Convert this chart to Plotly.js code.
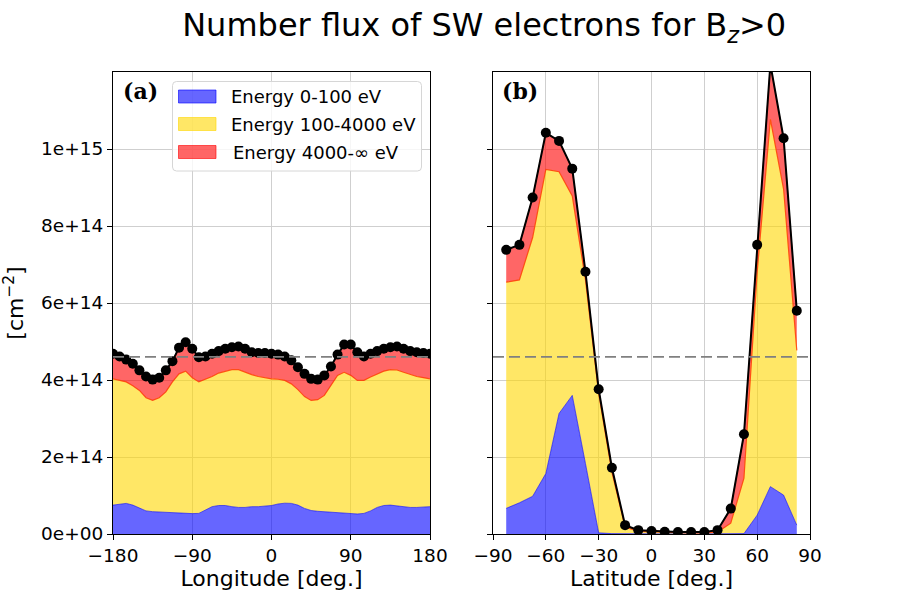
<!DOCTYPE html>
<html>
<head>
<meta charset="utf-8">
<script src="https://cdn.plot.ly/plotly-3.0.1.min.js"></script>
<style>
  html, body { margin: 0; padding: 0; background: #fff; }
  #chart { width: 900px; height: 600px; }
</style>
</head>
<body>
<div id="chart"></div>
<script>
// Flux values in units of 1e14 cm^-2, cumulative (low, low+mid, total)
const SCALE = 1e14;
const THRESHOLD = 4.6;

const longitude = [-180, -172.5, -165, -157.5, -150, -142.5, -135, -127.5, -120, -112.5,
  -105, -97.5, -90, -82.5, -75, -67.5, -60, -52.5, -45, -37.5, -30, -22.5, -15, -7.5,
  0, 7.5, 15, 22.5, 30, 37.5, 45, 52.5, 60, 67.5, 75, 82.5, 90, 97.5, 105, 112.5,
  120, 127.5, 135, 142.5, 150, 157.5, 165, 172.5, 180];

const lonLow = [0.75, 0.78, 0.795, 0.75, 0.665, 0.60, 0.58, 0.57, 0.56, 0.55,
  0.54, 0.535, 0.53, 0.535, 0.62, 0.71, 0.74, 0.74, 0.71, 0.69, 0.69, 0.71, 0.71, 0.73,
  0.74, 0.78, 0.80, 0.795, 0.75, 0.665, 0.61, 0.59, 0.58, 0.57, 0.56, 0.55, 0.54, 0.52, 0.535, 0.60,
  0.69, 0.74, 0.75, 0.73, 0.71, 0.69, 0.69, 0.70, 0.71];

const lonLowMid = [4.03, 4.00, 3.95, 3.85, 3.73, 3.54, 3.47, 3.54, 3.69, 3.95,
  4.16, 4.23, 4.06, 3.95, 4.01, 4.09, 4.18, 4.23, 4.27, 4.27, 4.20, 4.14, 4.09, 4.06,
  4.03, 4.02, 3.99, 3.90, 3.75, 3.57, 3.47, 3.49, 3.60, 3.86, 4.12, 4.20, 4.12, 3.99, 3.99, 4.08,
  4.16, 4.23, 4.27, 4.26, 4.20, 4.14, 4.09, 4.06, 4.03];

const lonTotal = [4.68, 4.61, 4.53, 4.42, 4.25, 4.09, 4.01, 4.06, 4.25, 4.49,
  4.84, 4.98, 4.81, 4.59, 4.61, 4.68, 4.75, 4.81, 4.85, 4.87, 4.81, 4.72, 4.70, 4.70,
  4.68, 4.66, 4.61, 4.51, 4.33, 4.16, 4.03, 4.01, 4.12, 4.35, 4.66, 4.92, 4.92, 4.72, 4.61, 4.68,
  4.75, 4.81, 4.85, 4.87, 4.81, 4.75, 4.72, 4.70, 4.68];

const latitude = [-82.5, -75, -67.5, -60, -52.5, -45, -37.5, -30, -22.5, -15, -7.5,
  0, 7.5, 15, 22.5, 30, 37.5, 45, 52.5, 60, 67.5, 75, 82.5];

const latLow = [0.666, 0.81, 0.98, 1.57, 3.13, 3.60, 1.83, 0.03, 0.01, 0.005, 0.003,
  0.002, 0.002, 0.002, 0.002, 0.002, 0.003, 0.005, 0.01, 0.49, 1.23, 1.01, 0.23];

const latLowMid = [6.54, 6.60, 7.70, 9.47, 9.41, 8.78, 6.60, 3.65, 1.61, 0.18, 0.07,
  0.06, 0.04, 0.03, 0.03, 0.03, 0.05, 0.28, 1.45, 6.80, 10.77, 8.96, 4.77];

const latTotal = [7.38, 7.51, 8.74, 10.42, 10.21, 9.49, 6.81, 3.76, 1.72, 0.23, 0.10,
  0.08, 0.06, 0.05, 0.05, 0.05, 0.10, 0.66, 2.59, 7.51, 12.2, 10.28, 5.80];

const legendNames = ['Energy 0-100 eV', 'Energy 100-4000 eV', 'Energy 4000-\u221e eV'];

const yTickVals = [0, 2, 4, 6, 8, 10];
const yTickText = ['0e+00', '2e+14', '4e+14', '6e+14', '8e+14', '1e+15'];

const BLUE   = 'rgba(0,0,255,0.6)';
const YELLOW = 'rgba(255,215,0,0.6)';
const RED    = 'rgba(255,0,0,0.6)';
const BAND_COLORS = [BLUE, YELLOW, RED];

const FONT = 'DejaVu Sans, sans-serif';
const W = 900, H = 600;

function scaled(arr) { return arr.map(v => v * SCALE); }
function px(x) { return x / W; }
function py(y) { return 1 - y / H; }

function panelTraces(x, low, lowMid, total, xa, ya) {
  return [
    { type: 'scatter', mode: 'lines', x: x, y: scaled(low), xaxis: xa, yaxis: ya,
      fill: 'tozeroy', fillcolor: BLUE, line: { color: BLUE, width: 1 },
      name: legendNames[0], showlegend: false, hoverinfo: 'skip' },
    { type: 'scatter', mode: 'lines', x: x, y: scaled(lowMid), xaxis: xa, yaxis: ya,
      fill: 'tonexty', fillcolor: YELLOW, line: { color: YELLOW, width: 1 },
      name: legendNames[1], showlegend: false, hoverinfo: 'skip' },
    { type: 'scatter', mode: 'lines', x: x, y: scaled(total), xaxis: xa, yaxis: ya,
      fill: 'tonexty', fillcolor: RED, line: { color: RED, width: 1 },
      name: legendNames[2], showlegend: false, hoverinfo: 'skip' },
    // red edge along the top of the yellow band
    { type: 'scatter', mode: 'lines', x: x, y: scaled(lowMid), xaxis: xa, yaxis: ya,
      line: { color: RED, width: 1.2 }, showlegend: false, hoverinfo: 'skip' },
    { type: 'scatter', mode: 'lines+markers', x: x, y: scaled(total), xaxis: xa, yaxis: ya,
      line: { color: 'black', width: 2 }, marker: { color: 'black', size: 10 },
      showlegend: false, hoverinfo: 'skip' },
  ];
}

const traces = [].concat(
  panelTraces(longitude, lonLow, lonLowMid, lonTotal, 'x', 'y'),
  panelTraces(latitude, latLow, latLowMid, latTotal, 'x2', 'y2')
);

const axisBase = {
  showline: true, mirror: true, linecolor: 'black', linewidth: 1,
  ticks: 'outside', ticklen: 5, tickwidth: 1, tickcolor: 'black',
  showgrid: true, gridcolor: '#cfcfcf', gridwidth: 1, zeroline: false,
  tickfont: { family: FONT, size: 18.5, color: 'black' },
};

const yAxisBase = Object.assign({}, axisBase, {
  range: [0, 1.2e15], domain: [0.11, 0.88],
  tickmode: 'array', tickvals: scaled(yTickVals), ticktext: yTickText,
});

// hand-drawn legend box (matplotlib style, rounded frame + patches)
const LEG = { x0: 172.5, x1: 421.5, y0: 81.5, y1: 171, r: 4 };
const legendRows = [96.5, 124, 152];

function roundedRect(b) {
  const r = b.r;
  return `M${px(b.x0 + r)},${py(b.y0)} L${px(b.x1 - r)},${py(b.y0)} ` +
    `Q${px(b.x1)},${py(b.y0)} ${px(b.x1)},${py(b.y0 + r)} L${px(b.x1)},${py(b.y1 - r)} ` +
    `Q${px(b.x1)},${py(b.y1)} ${px(b.x1 - r)},${py(b.y1)} L${px(b.x0 + r)},${py(b.y1)} ` +
    `Q${px(b.x0)},${py(b.y1)} ${px(b.x0)},${py(b.y1 - r)} L${px(b.x0)},${py(b.y0 + r)} ` +
    `Q${px(b.x0)},${py(b.y0)} ${px(b.x0 + r)},${py(b.y0)} Z`;
}

const legendShapes = [
  { type: 'path', xref: 'paper', yref: 'paper', path: roundedRect(LEG),
    fillcolor: 'rgba(255,255,255,0.8)', line: { color: '#d6d6d6', width: 1 }, layer: 'above' },
].concat(legendRows.map((yc, i) => ({
  type: 'rect', xref: 'paper', yref: 'paper',
  x0: px(178.5), x1: px(216), y0: py(yc - 6.5), y1: py(yc + 6.5),
  fillcolor: BAND_COLORS[i], line: { color: BAND_COLORS[i], width: 1 }, layer: 'above',
})));

const legendLabels = legendRows.map((yc, i) => ({
  text: legendNames[i], xref: 'paper', yref: 'paper',
  x: px(i === 2 ? 230.5 : 229), y: py(yc), xanchor: 'left', yanchor: 'middle',
  showarrow: false, font: { family: FONT, size: 18, color: 'black' },
}));

const layout = {
  width: W, height: H,
  paper_bgcolor: 'white', plot_bgcolor: 'white',
  margin: { l: 0, r: 0, t: 0, b: 0 },
  font: { family: FONT, color: 'black' },
  showlegend: false,
  title: {
    text: 'Number flux of SW electrons for B<sub><i>z</i></sub>>0',
    font: { family: FONT, size: 32, color: 'black' },
    x: 0.538, xanchor: 'center', y: 0.958, yanchor: 'middle',
  },
  xaxis: Object.assign({}, axisBase, {
    domain: [px(113), px(430)], range: [-180, 180], anchor: 'y',
    tickmode: 'array', tickvals: [-180, -90, 0, 90, 180],
    title: { text: 'Longitude [deg.]', font: { family: FONT, size: 22 }, standoff: 2 },
  }),
  yaxis: Object.assign({}, yAxisBase, {
    anchor: 'x',
    title: { text: '[cm<sup>\u22122</sup>]', font: { family: FONT, size: 22 }, standoff: 14 },
  }),
  xaxis2: Object.assign({}, axisBase, {
    domain: [px(493), px(810)], range: [-90, 90], anchor: 'y2',
    tickmode: 'array', tickvals: [-90, -60, -30, 0, 30, 60, 90],
    title: { text: 'Latitude [deg.]', font: { family: FONT, size: 22 }, standoff: 2 },
  }),
  yaxis2: Object.assign({}, yAxisBase, { anchor: 'x2', showticklabels: false }),
  shapes: ['x', 'x2'].map((xa, i) => ({
    type: 'line', xref: xa + ' domain', x0: 0, x1: 1,
    yref: i === 0 ? 'y' : 'y2', y0: THRESHOLD * SCALE, y1: THRESHOLD * SCALE,
    line: { color: 'gray', width: 1.6, dash: '11px,5px' }, layer: 'above',
  })).concat(legendShapes),
  annotations: [
    { text: '<b>(a)</b>', xref: 'paper', yref: 'paper', x: px(121), y: py(91),
      xanchor: 'left', yanchor: 'middle', showarrow: false,
      font: { family: 'DejaVu Serif, serif', size: 22, color: 'black' } },
    { text: '<b>(b)</b>', xref: 'paper', yref: 'paper', x: px(500), y: py(91),
      xanchor: 'left', yanchor: 'middle', showarrow: false,
      font: { family: 'DejaVu Serif, serif', size: 22, color: 'black' } },
  ].concat(legendLabels),
};

Plotly.newPlot('chart', traces, layout, { displayModeBar: false, responsive: false });
</script>
</body>
</html>
